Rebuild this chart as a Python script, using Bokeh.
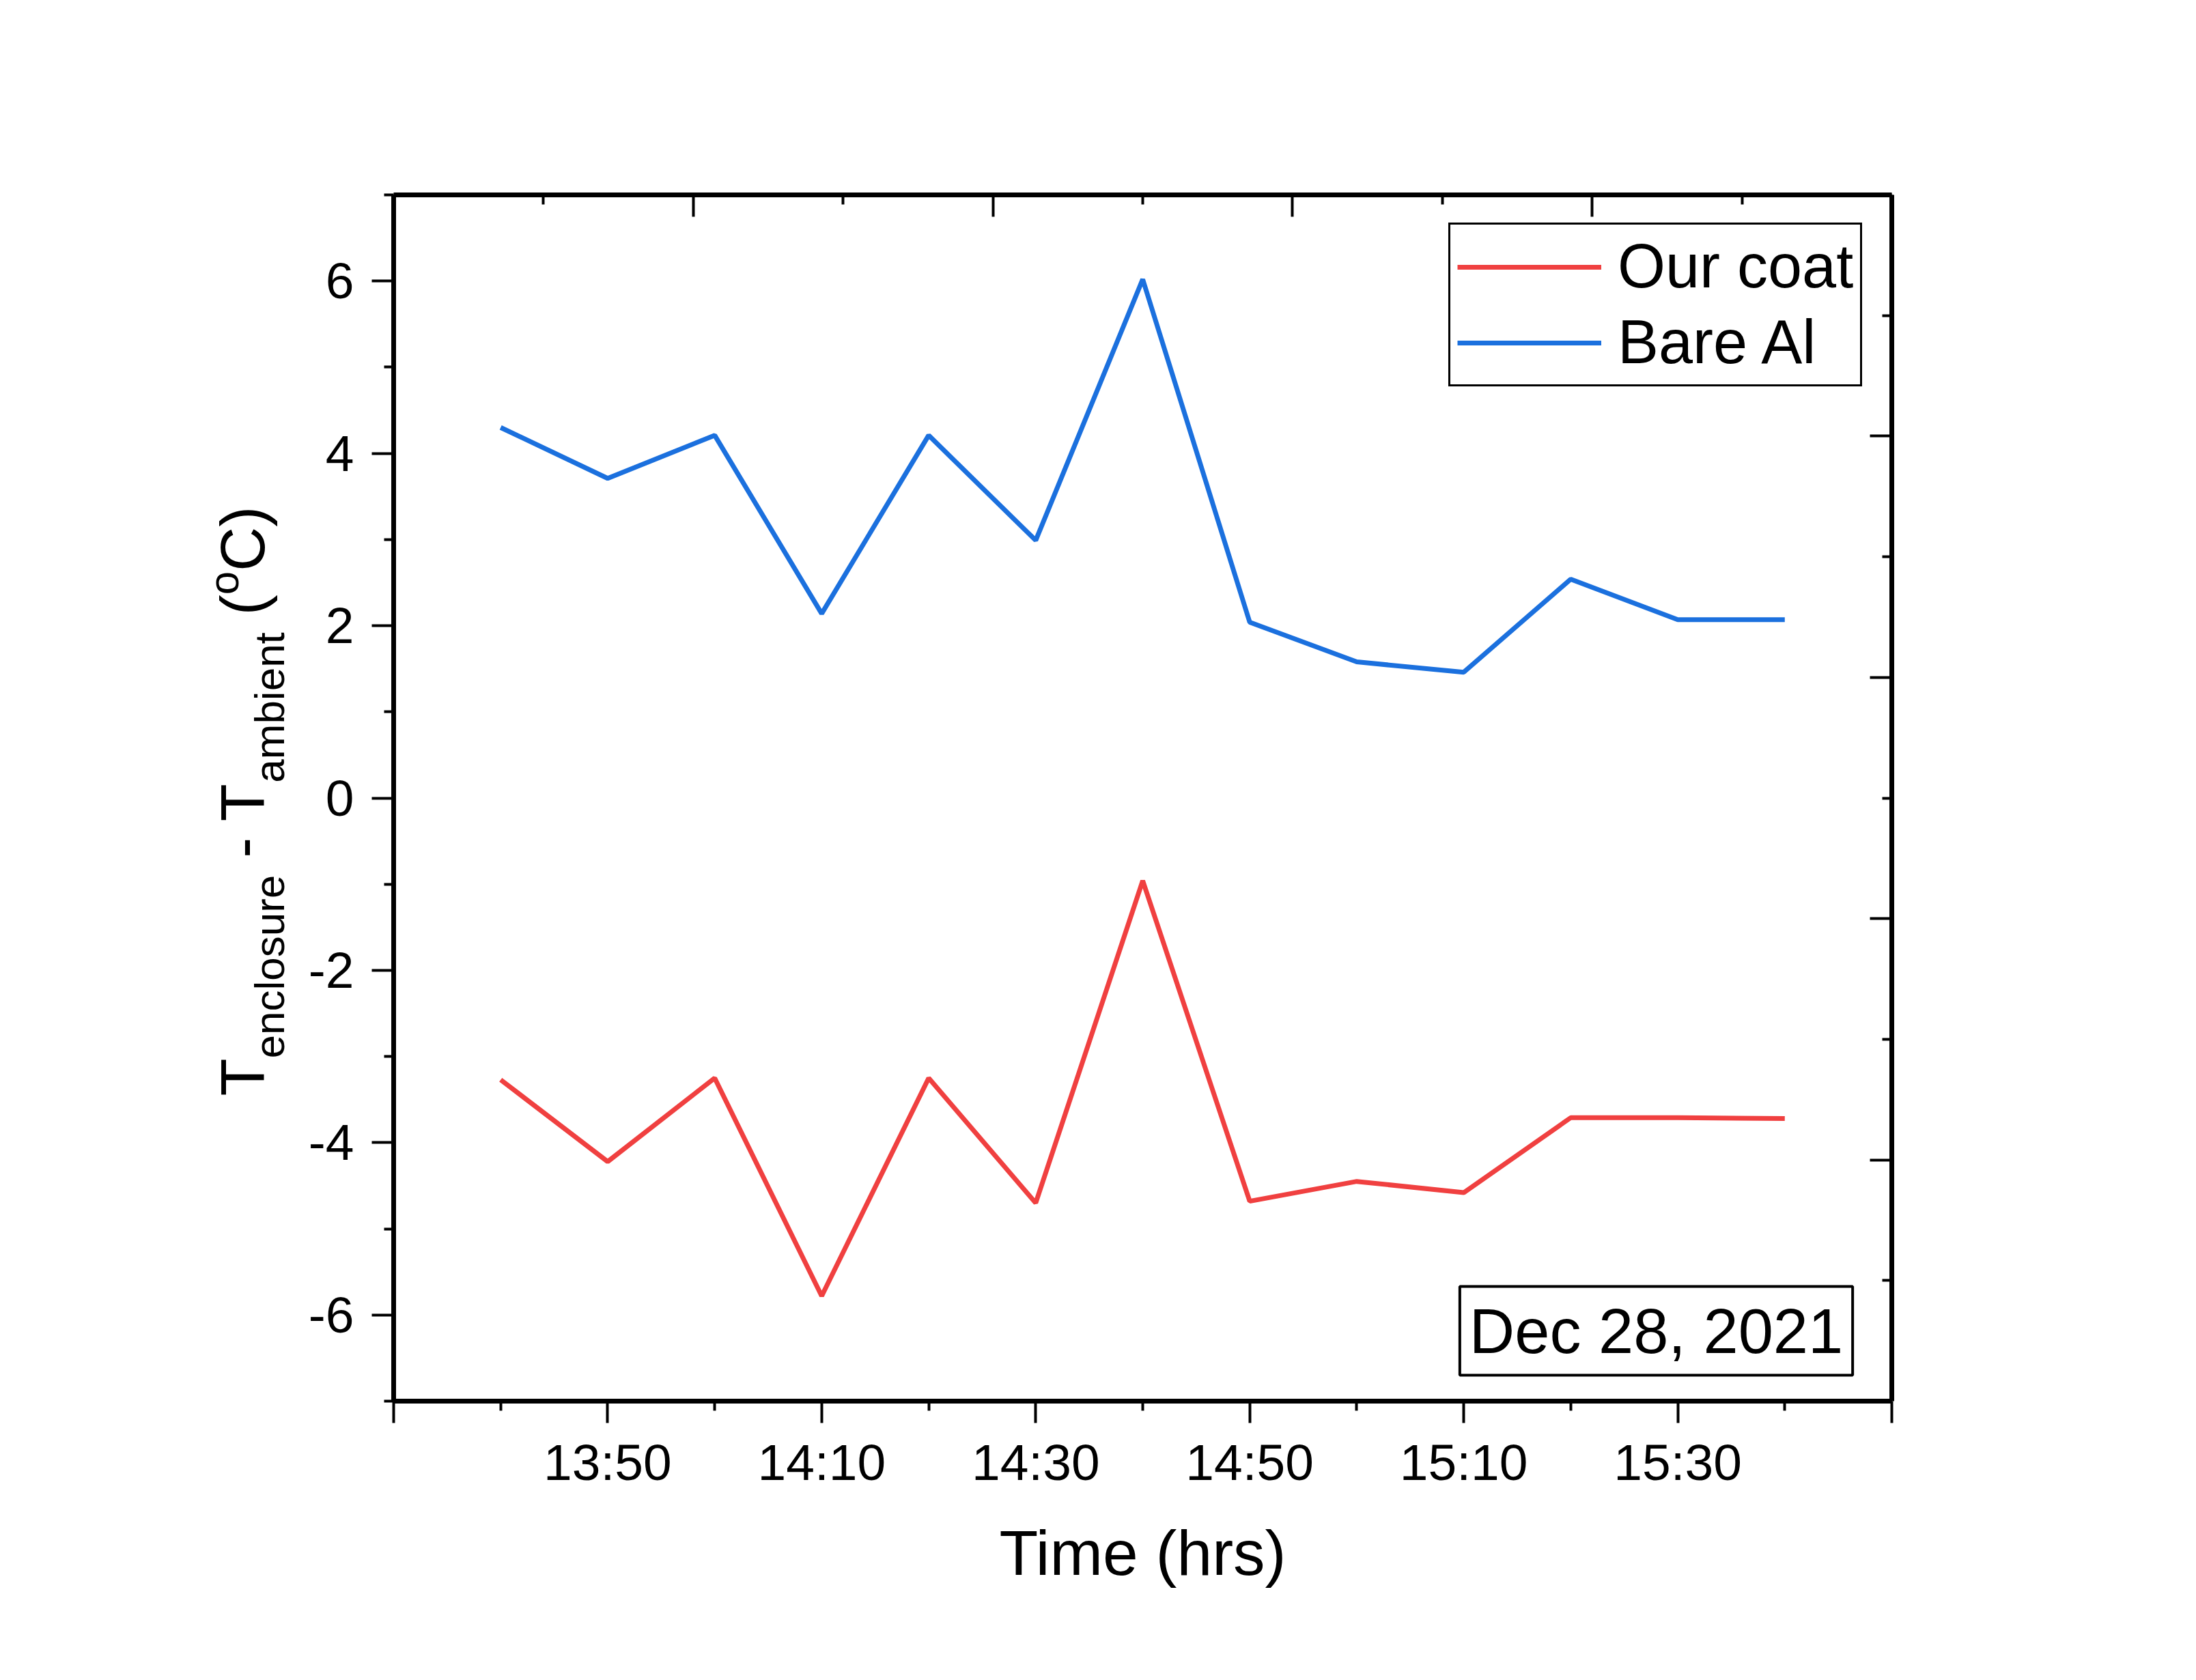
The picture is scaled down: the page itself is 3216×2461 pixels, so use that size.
import numpy as np
from bokeh.plotting import figure
from bokeh.layouts import row
from bokeh.models import (Range1d, LinearAxis, FixedTicker, Label, Legend, LegendItem)
from bokeh.embed import file_html
from bokeh.resources import INLINE

# ---------------- data ----------------
times = ["13:40", "13:50", "14:00", "14:10", "14:20", "14:30", "14:40",
         "14:50", "15:00", "15:10", "15:20", "15:30", "15:40"]
our_coat = [-3.27, -4.22, -3.25, -5.78, -3.25, -4.70, -0.96,
            -4.68, -4.45, -4.58, -3.71, -3.71, -3.72]
bare_al = [4.30, 3.71, 4.21, 2.14, 4.21, 2.99, 6.02,
           2.04, 1.58, 1.46, 2.54, 2.07, 2.07]
x_tick_labels = ["13:30", "13:50", "14:10", "14:30", "14:50", "15:10", "15:30", "15:50"]
y_ticks = [-6, -4, -2, 0, 2, 4, 6]
series_names = ["Our coat", "Bare Al"]
date_text = "Dec 28, 2021"


def to_min(s):
    h, m = s.split(":")
    return int(h) * 60 + int(m)


xs = [to_min(t) for t in times]
x_major = [to_min(t) for t in x_tick_labels]
x_minor = [v + 10 for v in x_major[:-1]]

FONT = "Liberation Sans"
RED = "#F04040"
BLUE = "#1B70DE"

TOTAL_H = 2455
LEFT_W = 430
FRAME_W, FRAME_H = 2194, 1767
BORDER_TOP = 285
BORDER_LEFT = 576 - LEFT_W
BORDER_BOTTOM = TOTAL_H - BORDER_TOP - FRAME_H
BORDER_RIGHT = 3210 - LEFT_W - BORDER_LEFT - FRAME_W
FRAME_BOTTOM = BORDER_TOP + FRAME_H

p = figure(frame_width=FRAME_W, frame_height=FRAME_H,
           min_border_left=BORDER_LEFT, min_border_top=BORDER_TOP,
           min_border_right=BORDER_RIGHT, min_border_bottom=BORDER_BOTTOM,
           x_range=Range1d(x_major[0], x_major[-1]), y_range=Range1d(-7, 7),
           output_backend="svg", toolbar_location=None,
           x_axis_location=None, y_axis_location=None)
p.background_fill_color = "white"
p.border_fill_color = "white"
p.outline_line_color = None
p.xgrid.visible = False
p.ygrid.visible = False

p.extra_x_ranges = {"top": Range1d(0, 10)}
p.extra_y_ranges = {"right": Range1d(0, 10)}

AXW = 7

xb = LinearAxis(ticker=FixedTicker(ticks=x_major, minor_ticks=x_minor))
xb.major_label_overrides = {v: (lab if 0 < i < len(x_major) - 1 else "")
                            for i, (v, lab) in enumerate(zip(x_major, x_tick_labels))}
xb.axis_label = "Time (hrs)"
yl = LinearAxis(ticker=FixedTicker(ticks=y_ticks, minor_ticks=[-7, -5, -3, -1, 1, 3, 5, 7]))
yl.major_label_overrides = {v: str(v) for v in y_ticks}
xt = LinearAxis(x_range_name="top", ticker=FixedTicker(ticks=[0, 2, 4, 6, 8, 10], minor_ticks=[1, 3, 5, 7, 9]))
yr = LinearAxis(y_range_name="right", ticker=FixedTicker(ticks=[0, 2, 4, 6, 8, 10], minor_ticks=[1, 3, 5, 7, 9]))

for ax in (xb, yl, xt, yr):
    ax.axis_line_width = AXW
    ax.axis_line_color = "black"
    ax.major_tick_line_width = 4
    ax.minor_tick_line_width = 4
    ax.major_tick_line_color = "black"
    ax.minor_tick_line_color = "black"
    ax.major_label_text_font = FONT
    ax.major_label_text_font_size = "75px"
    ax.major_label_text_color = "black"
    ax.axis_label_text_font = FONT
    ax.axis_label_text_font_style = "normal"
    ax.axis_label_text_font_size = "93px"
    ax.axis_label_text_color = "black"

for ax in (xb, yl):
    ax.major_tick_out = 32
    ax.major_tick_in = 0
    ax.minor_tick_out = 14
    ax.minor_tick_in = 0
xb.major_label_standoff = 15
xb.axis_label_standoff = 36
yl.major_label_standoff = 26

for ax in (xt, yr):
    ax.major_tick_in = 32
    ax.major_tick_out = 0
    ax.minor_tick_in = 14
    ax.minor_tick_out = 0
    ax.major_label_text_font_size = "0px"
    ax.major_label_text_alpha = 0

p.add_layout(xb, "below")
p.add_layout(yl, "left")
p.add_layout(xt, "above")
p.add_layout(yr, "right")

r1 = p.line(xs, our_coat, line_color=RED, line_width=7)
r2 = p.line(xs, bare_al, line_color=BLUE, line_width=7)

legend = Legend(items=[LegendItem(label=series_names[0], renderers=[r1]),
                       LegendItem(label=series_names[1], renderers=[r2])],
                location=(1545, 1486), margin=0, padding=10, spacing=8,
                glyph_width=211, glyph_height=60, label_standoff=24,
                label_text_font=FONT, label_text_font_size="90px",
                label_text_color="black", label_height=100,
                border_line_color="black", border_line_width=3, border_line_alpha=1.0,
                background_fill_color="white", background_fill_alpha=1.0)
p.add_layout(legend, "center")

date_label = Label(x=1849, y=103, x_units="screen", y_units="screen", text=date_text,
                   text_align="center", text_baseline="middle",
                   text_font=FONT, text_font_size="92px", text_color="black",
                   border_line_color="black", border_line_width=4, border_line_alpha=1.0,
                   background_fill_color="white", padding=14)
p.add_layout(date_label)

# ---- left strip holding the composed rotated y-axis title ----
lf = figure(frame_width=LEFT_W, frame_height=FRAME_H,
            min_border_left=0, min_border_right=0,
            min_border_top=BORDER_TOP, min_border_bottom=BORDER_BOTTOM,
            x_range=Range1d(0, 1), y_range=Range1d(0, 1),
            output_backend="svg", toolbar_location=None,
            x_axis_location=None, y_axis_location=None)
lf.outline_line_color = None
lf.xgrid.visible = False
lf.ygrid.visible = False
lf.background_fill_color = "white"
lf.border_fill_color = "white"

W = {'T': 611, 'e': 556, 'n': 556, 'c': 500, 'l': 222, 'o': 556, 's': 500, 'u': 556,
     'r': 333, ' ': 278, '-': 333, 'a': 556, 'm': 833, 'b': 556, 'i': 222, 't': 278,
     '(': 333, ')': 333, 'C': 722}


def tw(s, size):
    return sum(W[c] for c in s) / 1000.0 * size


MAIN, SMALL = 90, 62
# (text, font size, baseline x on page); blank pieces only advance the pen
pieces = [("T", MAIN, 393), ("enclosure", SMALL, 420), (" ", MAIN, 0), ("- T", MAIN, 393),
          ("ambient", SMALL, 420), (" ", MAIN, 0), ("(", MAIN, 393), ("o", SMALL, 353),
          ("C)", MAIN, 393)]
yy = FRAME_BOTTOM - 1605.0
for txt, size, bx in pieces:
    if txt.strip():
        xs_corr = -38.0 * size / MAIN  # empirical correction of the rotated-text anchor
        lf.add_layout(Label(x=bx + xs_corr, y=yy, x_units="screen", y_units="screen", text=txt,
                            angle=np.pi / 2, text_align="left", text_baseline="alphabetic",
                            text_font=FONT, text_font_size=f"{size}px", text_color="black"))
    yy += tw(txt, size)

layout = row(lf, p, spacing=0)
open("out.html", "w").write(file_html(layout, INLINE))
